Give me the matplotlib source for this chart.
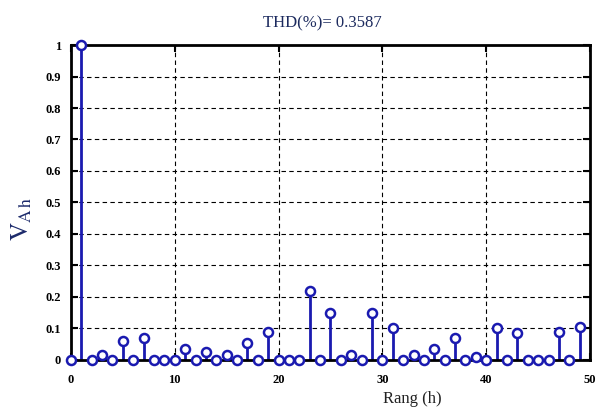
import matplotlib
matplotlib.use("Agg")
import matplotlib.pyplot as plt
import numpy as np

harmonics = list(range(0, 50))
values = [0, 1.0, 0, 0.015, 0, 0.06, 0, 0.07, 0, 0, 0,
          0.035, 0, 0.025, 0, 0.015, 0, 0.055, 0, 0.09, 0,
          0, 0, 0.22, 0, 0.15, 0, 0.015, 0, 0.15, 0,
          0.10, 0, 0.015, 0, 0.035, 0, 0.07, 0, 0.01, 0,
          0.10, 0, 0.085, 0, 0, 0, 0.09, 0, 0.105]
xticks = [0, 10, 20, 30, 40, 50]
yticks = [0, 0.1, 0.2, 0.3, 0.4, 0.5, 0.6, 0.7, 0.8, 0.9, 1]
ytick_labels = ["0", "0.1", "0.2", "0.3", "0.4", "0.5", "0.6", "0.7", "0.8", "0.9", "1"]
title = "THD(%)= 0.3587"

plt.rcParams['font.family'] = ['Liberation Serif', 'DejaVu Serif']
plt.rcParams['mathtext.fontset'] = 'stix'

fig = plt.figure(figsize=(5.96, 4.17), dpi=100)
ax = fig.add_axes([0.119, 0.137, 0.871, 0.755])

blue = '#1a1ab0'
markerline, stemlines, baseline = ax.stem(harmonics, values, basefmt=' ')
plt.setp(stemlines, color=blue, linewidth=2)
plt.setp(markerline, color=blue, marker='o', markersize=6.5, markerfacecolor='white',
         markeredgecolor=blue, markeredgewidth=1.8, clip_on=False, zorder=5)
stemlines.set_clip_on(False)

ax.set_xlim(0, 50)
ax.set_ylim(0, 1)
ax.set_xticks(xticks)
ax.set_yticks(yticks)
ax.set_yticklabels(ytick_labels)
ax.grid(True, linestyle=(0, (4, 3)), color='black', linewidth=0.8)
ax.set_axisbelow(True)
for s in ax.spines.values():
    s.set_linewidth(2)
    s.set_color('black')
ax.tick_params(direction='in', length=5, width=1.5, top=True, right=True,
               labelsize=9)
ax.tick_params(axis='x', pad=10)
ax.tick_params(axis='y', pad=7)
for lbl in ax.get_xticklabels() + ax.get_yticklabels():
    lbl.set_fontweight('bold')

ax.set_title(title, fontsize=12, color='#1c2a5e', x=0.484, pad=13)
ax.set_xlabel("Rang (h)", fontsize=12, color='#222222')
ax.xaxis.set_label_coords(0.657, -0.1)
ax.set_ylabel(r"$\mathrm{V}_{\mathrm{A\,h}}$", fontsize=18, color='#1c2a6b')
ax.yaxis.set_label_coords(-0.072, 0.448)

fig.savefig("out.png", dpi=100)
